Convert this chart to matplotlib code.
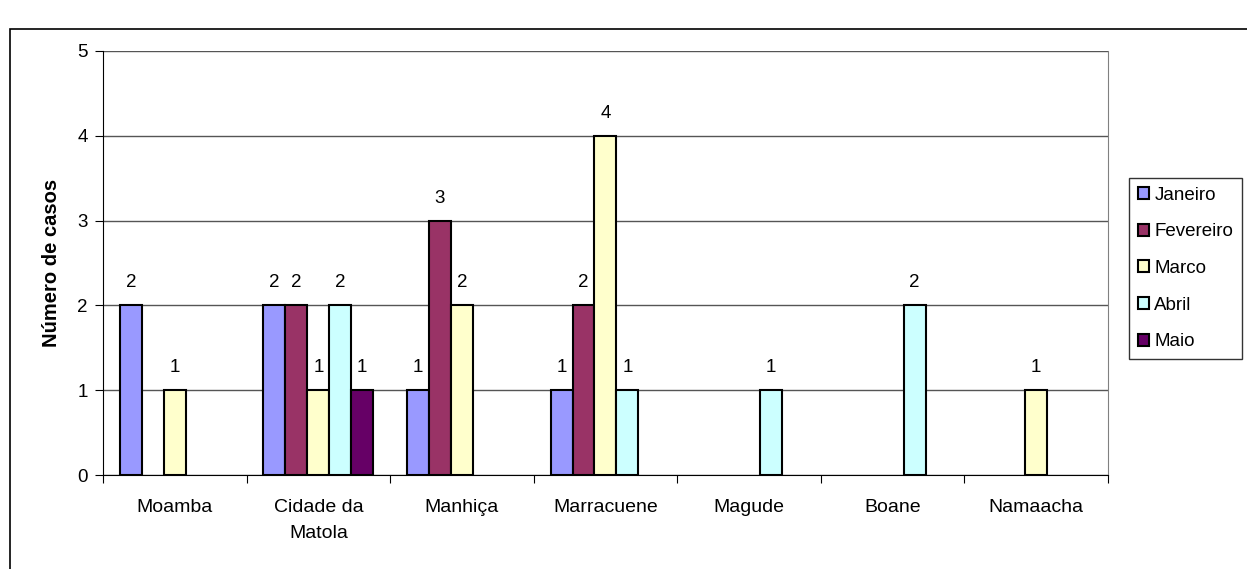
import numpy as np
import matplotlib.pyplot as plt
from matplotlib.patches import Rectangle

plt.rcParams['font.family'] = ['Liberation Sans', 'DejaVu Sans']

# Districts and monthly case counts
districts = ['Moamba', 'Cidade da\nMatola', 'Manhiça', 'Marracuene', 'Magude', 'Boane', 'Namaacha']
months = ['Janeiro', 'Fevereiro', 'Marco', 'Abril', 'Maio']
janeiro = [2, 2, 1, 1, 0, 0, 0]
fevereiro = [0, 2, 3, 2, 0, 0, 0]
marco = [1, 1, 2, 4, 0, 0, 1]
abril = [0, 2, 0, 1, 1, 2, 0]
maio = [0, 1, 0, 0, 0, 0, 0]
colors = ['#9999FF', '#993366', '#FFFFCC', '#CCFFFF', '#660066']

series = [janeiro, fevereiro, marco, abril, maio]

fig = plt.figure(figsize=(12.47, 5.69), dpi=100)
ax = fig.add_axes([0.0826, 0.1652, 0.8059, 0.7452])

# outer chart frame (right edge runs off the canvas)
fig.patches.append(Rectangle((0.008, -0.1), 1.2, 1.049, transform=fig.transFigure,
                             fill=False, edgecolor='black', linewidth=1.2))

x = np.arange(len(districts))
w = 0.153
for i, (vals, name, col) in enumerate(zip(series, months, colors)):
    pos = x - 2 * w + i * w
    vals = np.array(vals)
    mask = vals > 0
    ax.bar(pos[mask], vals[mask], width=w, color=col, edgecolor='black',
           linewidth=1.5, label=name, zorder=3)
    for p, v in zip(pos[mask], vals[mask]):
        ax.annotate(str(v), (p, v), xytext=(0, 13), textcoords='offset points',
                    ha='center', va='baseline', fontsize=13.5)

ax.set_xlim(-0.5, len(districts) - 0.5)
ax.set_ylim(0, 5)
ax.set_yticks(range(6))
ax.tick_params(axis='y', labelsize=13.5, length=6, direction='out', pad=5)
ax.set_xticks(np.arange(len(districts) + 1) - 0.5)
ax.set_xticklabels([])
ax.set_xticks(x, minor=True)
ax.set_xticklabels(districts, minor=True, fontsize=14, linespacing=1.7)
ax.tick_params(axis='x', which='major', length=6, direction='out')
ax.tick_params(axis='x', which='minor', length=0, pad=17)
ax.yaxis.grid(True, color='#555555', linewidth=1, zorder=0)
ax.set_ylabel('Número de casos', fontsize=14.5, fontweight='bold', labelpad=12)

ax.spines['top'].set_visible(False)
ax.spines['right'].set_color('#808080')
ax.spines['left'].set_color('black')
ax.spines['bottom'].set_color('black')

leg = ax.legend(loc='center left', bbox_to_anchor=(1.021, 0.487), fontsize=13.5,
                frameon=True, fancybox=False, edgecolor='black', handlelength=0.6,
                handleheight=0.6, handletextpad=0.3, labelspacing=1.05,
                borderpad=0.45, borderaxespad=0)
leg.get_frame().set_linewidth(1)

fig.savefig('out.png', dpi=100)
